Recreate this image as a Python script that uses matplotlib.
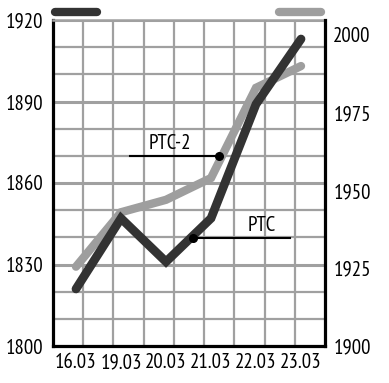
import matplotlib
matplotlib.use("Agg")
import matplotlib.pyplot as plt
from matplotlib.ticker import FixedLocator, MultipleLocator
from matplotlib.lines import Line2D

# ---- data ----
dates = ["16.03", "19.03", "20.03", "21.03", "22.03", "23.03"]
ptc = [1821, 1847, 1831, 1847, 1889, 1913]          # left axis (dark)
ptc2 = [1925.5, 1943, 1947, 1954, 1983, 1990]       # right axis (gray)
left_ticks = [1800, 1830, 1860, 1890, 1920]
right_ticks = [1900, 1925, 1950, 1975, 2000]

plt.rcParams['font.family'] = ['PT Sans Narrow', 'DejaVu Sans']
FS = 15
DARK = "#333333"
GRAY = "#9e9e9e"
GRID = "#a0a0a0"

fig = plt.figure(figsize=(3.89, 3.83), dpi=100)
L, R, B, T = 53/389, 325/389, 1-346/383, 1-20/383
ax = fig.add_axes([L, B, R-L, T-B])
x = list(range(len(dates)))
xlo, xhi = -0.511, 5.533
ax.set_xlim(xlo, xhi)
ax.set_ylim(1800, 1920)

# grid
ax.yaxis.set_major_locator(FixedLocator(left_ticks))
ax.yaxis.set_minor_locator(MultipleLocator(10))
ax.xaxis.set_major_locator(FixedLocator(x))
ax.set_xticklabels(dates)
ax.xaxis.set_minor_locator(FixedLocator([xlo + k*(xhi-xlo)/9 for k in range(1, 9)]))
ax.grid(True, axis='y', which='major', color=GRID, lw=2.2)
ax.grid(True, axis='y', which='minor', color=GRID, lw=1.6)
ax.grid(True, axis='x', which='minor', color=GRID, lw=1.6)
ax.grid(False, axis='x', which='major')
ax.tick_params(which='both', length=0)
ax.tick_params(axis='y', pad=7, labelsize=FS)
ax.tick_params(axis='x', pad=5, labelsize=FS)
for s in ['left', 'bottom']:
    ax.spines[s].set_linewidth(2.3)
    ax.spines[s].set_color('black')
ax.spines['right'].set_visible(False)
ax.spines['top'].set_color(GRID)
ax.spines['top'].set_linewidth(1.8)

# right axis (gray series)
ax2 = ax.twinx()
ax2.set_ylim(1900, 2004.8)
ax2.yaxis.set_major_locator(FixedLocator(right_ticks))
ax2.tick_params(length=0, pad=6, labelsize=FS)
ax2.spines['right'].set_linewidth(2.3)
ax2.spines['right'].set_color('black')
for s in ['left', 'top', 'bottom']:
    ax2.spines[s].set_visible(False)
ax2.plot(x, ptc2, color=GRAY, lw=6, solid_capstyle='round', solid_joinstyle='miter')

# top layer (dark series, left scale)
ax3 = ax.twinx()
ax3.set_ylim(ax.get_ylim())
ax3.axis('off')
ax3.plot(x, ptc, color=DARK, lw=6.3, solid_capstyle='round', solid_joinstyle='miter')

# annotations
ax3.plot([1.2, 3.18], [1869.8, 1869.8], color='black', lw=1.5)
ax3.plot([3.18], [1869.8], 'o', color='black', ms=5.5)
ax3.text(2.09, 1874.6, "PTC-2", ha='center', va='center', fontsize=FS)
ax3.plot([2.6, 4.76], [1839.9, 1839.9], color='black', lw=1.5)
ax3.plot([2.6], [1839.9], 'o', color='black', ms=5.5)
ax3.text(4.13, 1844.3, "PTC", ha='center', va='center', fontsize=FS)

# legend bars
fig.add_artist(Line2D([55/389, 97/389], [1-12/383, 1-12/383], color=DARK, lw=6,
                      solid_capstyle='round', transform=fig.transFigure))
fig.add_artist(Line2D([279/389, 321/389], [1-12/383, 1-12/383], color=GRAY, lw=6,
                      solid_capstyle='round', transform=fig.transFigure))

# end labels of the left axis sit inside the frame
for t in ax.yaxis.get_major_ticks():
    if t.get_loc() == 1920:
        t.label1.set_verticalalignment('top')
    if t.get_loc() == 1800:
        t.label1.set_verticalalignment('bottom')

fig.savefig("out.png", dpi=100)
